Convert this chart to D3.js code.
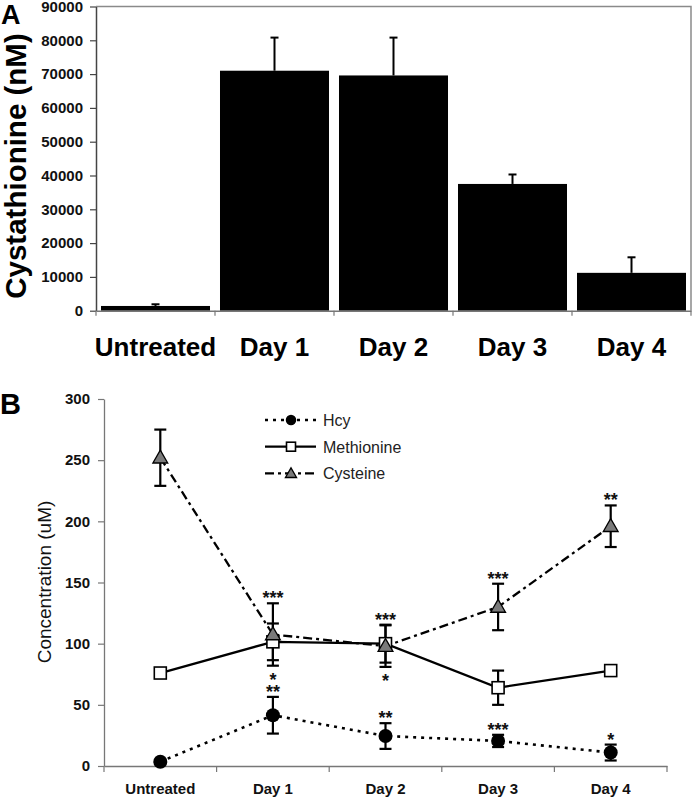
<!DOCTYPE html>
<html>
<head>
<meta charset="utf-8">
<script src="https://cdn.jsdelivr.net/npm/d3@7"></script>
<style>
  html, body { margin: 0; padding: 0; background: #fff; }
  svg { display: block; font-family: "Liberation Sans", Arial, sans-serif; }
</style>
</head>
<body>
<svg id="chart" width="693" height="799"></svg>
<script>
// ---------- Panel A data ----------
const categories = ["Untreated", "Day 1", "Day 2", "Day 3", "Day 4"];
const cystathionine = [1400, 71000, 69600, 37500, 11200];
const cystathionineErr = [500, 9800, 11200, 2800, 4600];
const ticksA = [0, 10000, 20000, 30000, 40000, 50000, 60000, 70000, 80000, 90000];

// ---------- Panel B data ----------
const hcy = [3.5, 41.5, 24.5, 20.5, 11];
const hcyErr = [1, 15, 10.5, 5, 6.5];
const methionine = [76, 101.5, 100, 64, 78];
const methionineErr = [1, 15, 15.5, 14, 1];
const cysteine = [252, 107.5, 98, 130, 196];
const cysteineErr = [23, 25.5, 17, 19, 17];
const ticksB = [0, 50, 100, 150, 200, 250, 300];
const seriesNames = ["Hcy", "Methionine", "Cysteine"];
const sigCategory = ["Day 1", "Day 1", "Day 1", "Day 2", "Day 2", "Day 2", "Day 3", "Day 3", "Day 4", "Day 4"];
const sigSeries = ["Cysteine", "Cysteine", "Hcy", "Cysteine", "Cysteine", "Hcy", "Cysteine", "Hcy", "Cysteine", "Hcy"];
const sigSide = ["above", "below", "above", "above", "below", "above", "above", "above", "above", "above"];
const sigMark = ["***", "*", "**", "***", "*", "**", "***", "***", "**", "*"];

const svg = d3.select("#chart");
const FONT = "\"Liberation Sans\", Arial, sans-serif";

// =================== PANEL A ===================
const xA = d3.scaleBand().domain(categories).range([96, 691]).paddingInner(0.084).paddingOuter(0.042);
const yA = d3.scaleLinear().domain([0, 90000]).range([310.7, 6.5]);

const gA = svg.append("g");

// frame (top and right)
gA.append("path")
  .attr("d", `M${xA.range()[0]},${yA(90000)} H${xA.range()[1]} V${yA(0)}`)
  .attr("fill", "none").attr("stroke", "#8a8a8a").attr("stroke-width", 1.5);

// bars
gA.selectAll("rect.bar").data(categories).join("rect")
  .attr("class", "bar")
  .attr("x", d => xA(d))
  .attr("width", xA.bandwidth())
  .attr("y", (d, i) => yA(cystathionine[i]))
  .attr("height", (d, i) => yA(0) - yA(cystathionine[i]))
  .attr("fill", "#000");

// error bars (upward only)
categories.forEach((c, i) => {
  const cx = xA(c) + xA.bandwidth() / 2;
  const y0 = yA(cystathionine[i]);
  const y1 = yA(cystathionine[i] + cystathionineErr[i]);
  gA.append("line").attr("x1", cx).attr("x2", cx).attr("y1", y0).attr("y2", y1)
    .attr("stroke", "#000").attr("stroke-width", 2);
  gA.append("line").attr("x1", cx - 4).attr("x2", cx + 4).attr("y1", y1).attr("y2", y1)
    .attr("stroke", "#000").attr("stroke-width", 2);
});

// y axis
const yAxisA = gA.append("g").attr("transform", `translate(${xA.range()[0]},0)`)
  .call(d3.axisLeft(yA).tickValues(ticksA).tickFormat(d3.format("d")).tickSize(6).tickSizeOuter(0));
yAxisA.select(".domain").attr("stroke", "#444").attr("stroke-width", 1.5);
yAxisA.selectAll(".tick line").attr("stroke", "#444").attr("stroke-width", 1.2);
yAxisA.selectAll(".tick text")
  .attr("font-family", FONT).attr("font-size", 15).attr("font-weight", "bold").attr("fill", "#111")
  .attr("x", -13);

// x axis
const xAxisA = gA.append("g").attr("transform", `translate(0,${yA(0)})`)
  .call(d3.axisBottom(xA).tickSize(0).tickSizeOuter(0));
xAxisA.select(".domain").attr("stroke", "#777").attr("stroke-width", 1.5);
xAxisA.selectAll(".tick text")
  .attr("font-family", FONT).attr("font-size", 26).attr("font-weight", "bold").attr("fill", "#000")
  .attr("y", 45).attr("dy", 0);
const boundsA = categories.map(c => xA(c) - xA.step() * xA.paddingInner() / 2).concat([xA.range()[1]]);
xAxisA.selectAll("line.bnd").data(boundsA).join("line").attr("class", "bnd")
  .attr("x1", d => d).attr("x2", d => d).attr("y1", 0).attr("y2", 5)
  .attr("stroke", "#777").attr("stroke-width", 1.2);

// y label
svg.append("text")
  .attr("transform", "translate(26,166) rotate(-90)")
  .attr("text-anchor", "middle")
  .attr("font-family", FONT).attr("font-size", 29.5).attr("font-weight", "bold")
  .text("Cystathionine (nM)");

// panel letter
svg.append("text").attr("x", 1).attr("y", 24)
  .attr("font-family", FONT).attr("font-size", 27).attr("font-weight", "bold").text("A");

// =================== PANEL B ===================
const xB = d3.scaleBand().domain(categories).range([104, 667]).padding(0);
const yB = d3.scaleLinear().domain([0, 300]).range([766, 399]);
const cxB = c => xB(c) + xB.bandwidth() / 2;

const gB = svg.append("g");

// axes
const yAxisB = gB.append("g").attr("transform", `translate(${xB.range()[0]},0)`)
  .call(d3.axisLeft(yB).tickValues(ticksB).tickSize(6).tickSizeOuter(0));
yAxisB.select(".domain").attr("stroke", "#777").attr("stroke-width", 1.3);
yAxisB.selectAll(".tick line").attr("stroke", "#777").attr("stroke-width", 1.2);
yAxisB.selectAll(".tick text")
  .attr("font-family", FONT).attr("font-size", 15).attr("font-weight", "bold").attr("fill", "#111")
  .attr("x", -14);

const xAxisB = gB.append("g").attr("transform", `translate(0,${yB(0)})`)
  .call(d3.axisBottom(xB).tickSize(0).tickSizeOuter(0));
xAxisB.select(".domain").attr("stroke", "#777").attr("stroke-width", 1.3);
xAxisB.selectAll(".tick text")
  .attr("font-family", FONT).attr("font-size", 15).attr("font-weight", "bold").attr("fill", "#111")
  .attr("y", 28).attr("dy", 0);
const boundsB = categories.map(c => xB(c)).concat([xB.range()[1]]);
xAxisB.selectAll("line.bnd").data(boundsB).join("line").attr("class", "bnd")
  .attr("x1", d => d).attr("x2", d => d).attr("y1", 0).attr("y2", 6)
  .attr("stroke", "#777").attr("stroke-width", 1.2);

// y label
svg.append("text")
  .attr("transform", "translate(51,582) rotate(-90)")
  .attr("text-anchor", "middle")
  .attr("font-family", FONT).attr("font-size", 19).attr("fill", "#111")
  .text("Concentration (uM)");

svg.append("text").attr("x", 0).attr("y", 414)
  .attr("font-family", FONT).attr("font-size", 29).attr("font-weight", "bold").text("B");

const seriesVals = { "Hcy": hcy, "Methionine": methionine, "Cysteine": cysteine };
const seriesErr = { "Hcy": hcyErr, "Methionine": methionineErr, "Cysteine": cysteineErr };
const dash = { "Hcy": "3,5", "Methionine": null, "Cysteine": "9,4,3,4" };
const lineW = { "Hcy": 2.6, "Methionine": 2.3, "Cysteine": 2.3 };

const lineGen = d3.line().x(d => cxB(d.c)).y(d => yB(d.v));

// lines
seriesNames.forEach(s => {
  gB.append("path")
    .datum(categories.map((c, i) => ({ c, v: seriesVals[s][i] })))
    .attr("d", lineGen)
    .attr("fill", "none").attr("stroke", "#000")
    .attr("stroke-width", lineW[s])
    .attr("stroke-dasharray", dash[s]);
});

// error bars
seriesNames.forEach(s => {
  categories.forEach((c, i) => {
    const x = cxB(c);
    const yt = yB(seriesVals[s][i] + seriesErr[s][i]);
    const yb = yB(seriesVals[s][i] - seriesErr[s][i]);
    gB.append("line").attr("x1", x).attr("x2", x).attr("y1", yt).attr("y2", yb)
      .attr("stroke", "#000").attr("stroke-width", 2.2);
    [yt, yb].forEach(y => gB.append("line").attr("x1", x - 6).attr("x2", x + 6).attr("y1", y).attr("y2", y)
      .attr("stroke", "#000").attr("stroke-width", 2.2));
  });
});

// markers
function marker(g, s, x, y, scale) {
  if (s === "Hcy") {
    g.append("circle").attr("cx", x).attr("cy", y).attr("r", 7 * scale).attr("fill", "#000");
  } else if (s === "Methionine") {
    const h = 6 * scale;
    g.append("rect").attr("x", x - h).attr("y", y - h).attr("width", 2 * h).attr("height", 2 * h)
      .attr("fill", "#fff").attr("stroke", "#000").attr("stroke-width", 1.6);
  } else {
    g.append("path").attr("transform", `translate(${x},${y + 1})`)
      .attr("d", d3.symbol().type(d3.symbolTriangle).size(95 * scale * scale)())
      .attr("fill", "#7a7a7a").attr("stroke", "#000").attr("stroke-width", 1.3);
  }
}
["Methionine", "Cysteine", "Hcy"].forEach(s => {
  categories.forEach((c, i) => marker(gB, s, cxB(c), yB(seriesVals[s][i]), 1));
});

// significance marks
sigMark.forEach((m, k) => {
  const i = categories.indexOf(sigCategory[k]);
  const s = sigSeries[k];
  const v = seriesVals[s][i], e = seriesErr[s][i];
  const y = sigSide[k] === "above" ? yB(v + e) + 1 : yB(v - e) + 20;
  gB.append("text").attr("x", cxB(sigCategory[k])).attr("y", y)
    .attr("text-anchor", "middle").attr("font-family", FONT).attr("font-size", 18)
    .attr("font-weight", "bold").attr("fill", "#111")
    .text(m);
});

// legend
const legY = [420, 446.7, 473.3];
seriesNames.forEach((s, k) => {
  const g = gB.append("g");
  g.append("line").attr("x1", 265).attr("x2", 316).attr("y1", legY[k]).attr("y2", legY[k])
    .attr("stroke", "#000").attr("stroke-width", lineW[s]).attr("stroke-dasharray", dash[s]);
  marker(g, s, 291, legY[k], 0.75);
  g.append("text").attr("x", 323).attr("y", legY[k] + 6)
    .attr("font-family", FONT).attr("font-size", 16).attr("fill", "#222").text(s);
});
</script>
</body>
</html>
